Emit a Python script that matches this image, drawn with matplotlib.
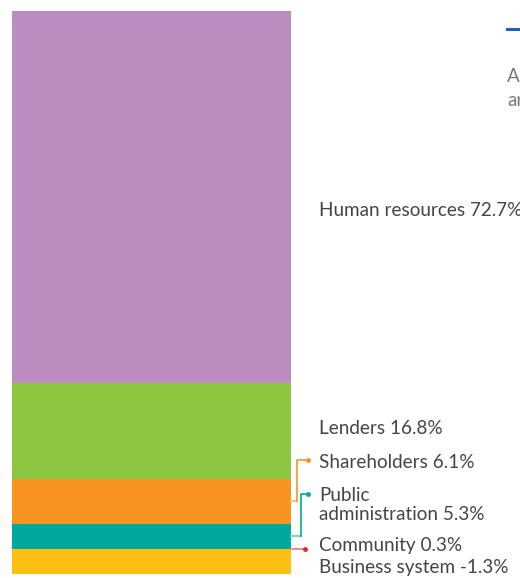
import matplotlib
matplotlib.use("Agg")
import matplotlib.pyplot as plt
from matplotlib.lines import Line2D

# stakeholders, bottom to top in the stacked bar
names = ["Business system", "Community", "Public\nadministration", "Shareholders", "Lenders", "Human resources"]
shares = [-1.3, 0.3, 5.3, 6.1, 16.8, 72.7]
# drawn segment heights (not proportional to the shares)
drawn = [4.4, 0.1, 4.4, 8.0, 17.0, 66.1]
colors = ["#FDC010", "#E8262B", "#00A99D", "#F7931E", "#8DC63F", "#BC8BBF"]

W, H = 520, 578
fig = plt.figure(figsize=(W / 100, H / 100), dpi=100)
fig.patch.set_facecolor("white")

def fx(px):
    return px / W

def fy(py):
    return 1 - py / H

# the bar occupies x 12..291, y 11..574 in pixels
ax = fig.add_axes([fx(12), fy(574), fx(291) - fx(12), (574 - 11) / H])
bottom = 0
for h, c in zip(drawn, colors):
    ax.bar(0, h, bottom=bottom, width=1, color=c, linewidth=0, align="edge")
    bottom += h
ax.set_xlim(0, 1)
ax.set_ylim(0, sum(drawn))
ax.axis("off")

font = ["Lato", "DejaVu Sans"]
txt = dict(fontsize=13.6, color="#454545", family=font, va="center", ha="left")
label_y = [568, 546, 505, 462, 428, 211]
for n, s, y in zip(names, shares, label_y):
    fig.text(fx(319), fy(y), f"{n} {s:.1f}%", linespacing=1.2, **txt)

# leader lines for the small segments
fig.canvas.draw()
mids = []
b = 0
for h in drawn:
    mids.append(b + h / 2)
    b += h

def seg_py(i):
    # pixel y (from top) of a segment centre
    _, yp = ax.transData.transform((1, mids[i]))
    return H - yp

def leader(points, color, light):
    xs = [fx(p[0]) for p in points]
    ys = [fy(p[1]) for p in points]
    fig.add_artist(Line2D(xs[:2], ys[:2], color=light, lw=1.6, transform=fig.transFigure))
    fig.add_artist(Line2D(xs[1:], ys[1:], color=color, lw=1.2, transform=fig.transFigure))
    fig.add_artist(Line2D([xs[-1]], [ys[-1]], color=color, marker="o", ms=2.5, transform=fig.transFigure))

y_sh = seg_py(3)
leader([(291, y_sh), (297, y_sh), (297, 460), (308, 460)], "#F7931E", "#FBC48A")
y_pa = seg_py(2)
leader([(291, y_pa), (301, y_pa), (301, 494), (308, 494)], "#00A99D", "#7FD4CE")
y_co = seg_py(1)
fig.add_artist(Line2D([fx(291), fx(305)], [fy(y_co), fy(y_co)], color="#F08A8D", lw=1.4, transform=fig.transFigure))
fig.add_artist(Line2D([fx(305)], [fy(y_co)], color="#E8262B", marker="o", ms=2.5, transform=fig.transFigure))

# cropped heading at the top right
fig.add_artist(Line2D([fx(507), fx(522)], [fy(29), fy(29)], color="#1F63B0", lw=2.2, transform=fig.transFigure))
fig.text(fx(507), fy(77), "A", fontsize=13.6, color="#7a7a7a", family=font, va="center")
fig.text(fx(507), fy(100), "ar", fontsize=13.6, color="#7a7a7a", family=font, va="center")

fig.savefig("out.png", dpi=100, facecolor="white")
